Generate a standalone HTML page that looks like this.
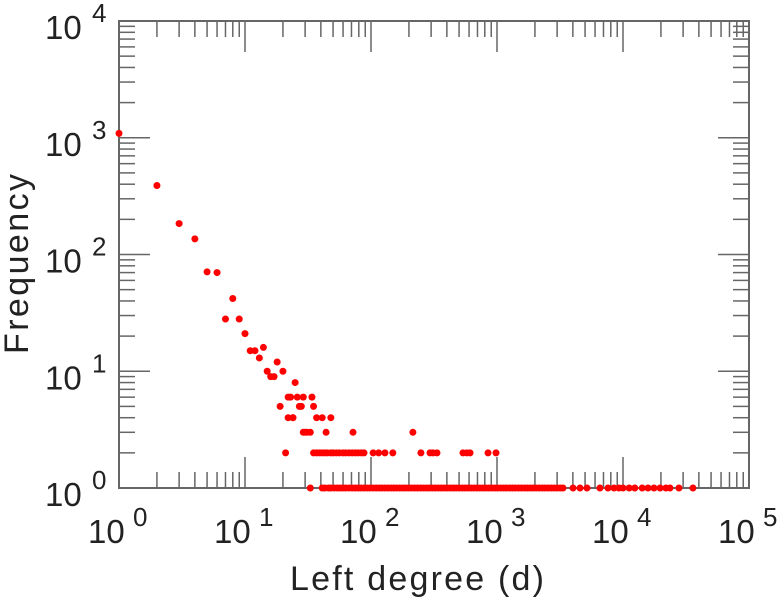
<!DOCTYPE html>
<html><head><meta charset="utf-8"><style>
html,body{margin:0;padding:0;background:#fff;}
svg{display:block;font-family:"Liberation Sans",sans-serif;}
</style></head><body>
<svg id="chart" width="778" height="600" viewBox="0 0 778 600">
<g id="ticks"></g>
<rect x="119" y="21" width="630" height="467" fill="none" stroke="#666" stroke-width="2"/>
<g id="labels"></g>
<g id="points"></g>
<text x="417" y="590" font-size="34" fill="#222" text-anchor="middle" textLength="254">Left degree (d)</text>
<text transform="translate(28,264) rotate(-90)" font-size="34" fill="#222" text-anchor="middle" textLength="180">Frequency</text>
</svg>
<script>
const xTickExps = [0,1,2,3,4,5];
const yTickExps = [0,1,2,3,4];
const ptsX = [1,2,3,4,5,6,7,8,9,10,11,12,13,14,15,16,17,18,19,20,21,
  22,23,24,25,26,27,28,29,34,35,37,41,48,22,24,29,30,31,33,44,72,215];
const ptsY = [1090,390,184,136,71,70,28,42,28,21,15,15,13,16,10,9,9,12,5,10,2,
  6,6,4,8,6,5,5,6,6,5,4,4,4,4,4,3,3,3,3,3,3,3];
const twosX = [35,37,39,41,43,45,48,50,53,56,60,63,67,71,75,79,84,88,104,115,129,149,249,294,311,334,537,576,611,849,982];
const twosY = [2,2,2,2,2,2,2,2,2,2,2,2,2,2,2,2,2,2,2,2,2,2,2,2,2,2,2,2,2,2,2];
const onesX = [33,41,43,46,48,51,54,57,60,63,67,71,75,79,83,88,93,98,104,110,116,122,129,136,144,152,160,169,179,189,199,210,222,234,247,261,276,291,307,324,342,361,381,402,425,449,474,500,528,557,589,621,656,693,731,772,815,861,909,960,1010,1070,1130,1190,1260,1330,1400,1480,1560,1650,1740,1840,1940,2050,2170,2290,2410,2550,2690,2840,3000,3170,3340,
  4010,4560,5180,6560,7600,8490,9290,10000,11200,12400,14200,15800,17600,19700,21900,23600,27800,35900];
const onesY = onesX.map(() => 1);

const NS = "http://www.w3.org/2000/svg";
const X0 = 119, XD = 126, Y0 = 488, YD = 116.75;
function xs(v){ return X0 + Math.log10(v) * XD; }
function ys(v){ return Y0 - Math.log10(v) * YD; }
function mk(tag, attrs, parent){
  const e = document.createElementNS(NS, tag);
  for (const k in attrs) e.setAttribute(k, attrs[k]);
  parent.appendChild(e); return e;
}
const tg = document.getElementById('ticks');
for (let d = 0; d < 5; d++) {
  for (let m = 1; m <= 9; m++) {
    const v = Math.pow(10, d) * m;
    const x = xs(v);
    const len = m === 1 ? 31 : 16;
    if (d > 0 || m > 1) {
      const a = mk('line', {x1:x, x2:x, y1:488, y2:488 - len, stroke:'#666', 'stroke-width':1.5}, tg);
      
      
      const b = mk('line', {x1:x, x2:x, y1:21, y2:21 + len, stroke:'#666', 'stroke-width':1.5}, tg);
      
      
    }
  }
}
for (let d = 0; d < 4; d++) {
  for (let m = 1; m <= 9; m++) {
    const v = Math.pow(10, d) * m;
    const y = ys(v);
    const len = m === 1 ? 31 : 16;
    if (d > 0 || m > 1) {
      const a = mk('line', {x1:119, x2:119 + len, y1:y, y2:y, stroke:'#666', 'stroke-width':1.5}, tg);
      
      
      const b = mk('line', {x1:749, x2:749 - len, y1:y, y2:y, stroke:'#666', 'stroke-width':1.5}, tg);
      
      
    }
  }
}
const lg = document.getElementById('labels');
xTickExps.forEach(e => {
  const x = xs(Math.pow(10, e));
  const t = mk('text', {x:x - 31, y:543, 'font-size':33, fill:'#222'}, lg);
  t.textContent = '10';
  
  
  const s = mk('text', {x:x + 14, y:526, 'font-size':26, fill:'#222'}, lg);
  s.textContent = String(e);
  
  
});
yTickExps.forEach(e => {
  const y = ys(Math.pow(10, e));
  const t = mk('text', {x:45, y:y + 18, 'font-size':33, fill:'#222'}, lg);
  t.textContent = '10';
  
  
  const s = mk('text', {x:92, y:y + 1, 'font-size':26, fill:'#222'}, lg);
  s.textContent = String(e);
  
  
});
const pg = document.getElementById('points');
const allX = ptsX.concat(twosX, onesX), allY = ptsY.concat(twosY, onesY);
allX.forEach((v, i) => {
  const c = mk('circle', {cx:xs(v), cy:ys(allY[i]), r:3.5, fill:'#ff0000'}, pg);
  
  
});
</script>
</body></html>
